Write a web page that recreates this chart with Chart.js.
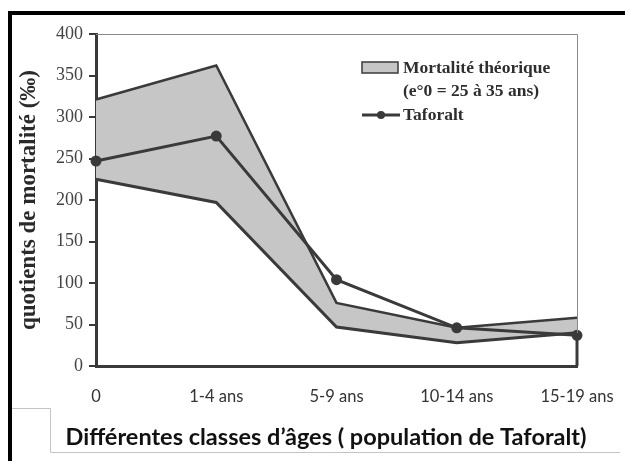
<!DOCTYPE html>
<html>
<head>
<meta charset="utf-8">
<script src="https://cdn.jsdelivr.net/npm/chart.js@4/dist/chart.umd.min.js"></script>
<style>
  html, body { margin: 0; padding: 0; background: #fff; }
  #wrap { width: 625px; height: 461px; }
</style>
</head>
<body>
<div id="wrap"><canvas id="c" width="625" height="461"></canvas></div>
<script>
// ---- data ----
const categories = ['0', '1-4 ans', '5-9 ans', '10-14 ans', '15-19 ans'];
const theoLow  = [225, 197, 47, 28, 40];
const theoHigh = [321, 362, 76, 46, 58];
const taforalt = [247, 277, 104, 46, 37];
const yTicks = [0, 50, 100, 150, 200, 250, 300, 350, 400];
const legendTheo = ['Mortalité théorique', '(e°0 = 25 à 35 ans)'];
const legendTaf = 'Taforalt';
const xTitle = 'Différentes classes d\u2019âges ( population de Taforalt)';
const yTitle = 'quotients de mortalité (‰)';

const DARK = '#3a3a3a';
const FILL = '#c6c6c6';
const SERIF = '"Liberation Serif", "DejaVu Serif", serif';
const SANS = 'Lato, "Open Sans", sans-serif';

const decor = {
  id: 'decor',
  beforeDraw(chart) {
    const ctx = chart.ctx;
    ctx.save();
    ctx.fillStyle = '#fff';
    ctx.fillRect(0, 0, chart.width, chart.height);
    // black frame
    ctx.fillStyle = '#000';
    ctx.fillRect(8, 11, 4, chart.height - 11);
    ctx.fillRect(8, 11, chart.width - 8, 4);
    // x-title box
    ctx.strokeStyle = '#c4c4c4';
    ctx.lineWidth = 1;
    ctx.beginPath();
    ctx.moveTo(12, 408.5); ctx.lineTo(50.5, 408.5);
    ctx.lineTo(50.5, 452.5); ctx.lineTo(620, 452.5);
    ctx.stroke();
    // x-axis title (wider than the plot, so drawn here)
    ctx.fillStyle = '#111';
    ctx.font = 'bold 23.5px ' + SANS;
    ctx.textAlign = 'center';
    ctx.textBaseline = 'middle';
    ctx.fillText(xTitle, 326, 437);
    ctx.restore();
  },
  afterDatasetsDraw(chart) {
    const ctx = chart.ctx;
    const a = chart.chartArea;
    const xs = chart.scales.x, ys = chart.scales.y;
    ctx.save();
    // plot border top / right
    ctx.strokeStyle = '#8a8a8a';
    ctx.lineWidth = 1;
    ctx.beginPath();
    ctx.moveTo(a.left, a.top + 0.5); ctx.lineTo(a.right + 0.5, a.top + 0.5);
    ctx.lineTo(a.right + 0.5, a.bottom);
    ctx.stroke();
    // dark right edge of the lower area
    const last = categories.length - 1;
    const xl = xs.getPixelForValue(last);
    ctx.strokeStyle = DARK;
    ctx.lineWidth = 3;
    ctx.beginPath();
    ctx.moveTo(xl, ys.getPixelForValue(0));
    ctx.lineTo(xl, ys.getPixelForValue(theoLow[last]));
    ctx.stroke();

    // legend
    ctx.fillStyle = FILL;
    ctx.fillRect(362, 62, 36, 11);
    ctx.strokeStyle = DARK;
    ctx.lineWidth = 1.5;
    ctx.strokeRect(362, 62, 36, 11);
    ctx.fillStyle = '#2e2e2e';
    ctx.font = 'bold 17.5px ' + SERIF;
    ctx.textAlign = 'left';
    ctx.textBaseline = 'middle';
    ctx.fillText(legendTheo[0], 403, 68);
    ctx.fillText(legendTheo[1], 403, 91);
    ctx.fillText(legendTaf, 403, 115);
    ctx.strokeStyle = DARK;
    ctx.lineWidth = 3;
    ctx.beginPath();
    ctx.moveTo(362, 115); ctx.lineTo(400, 115);
    ctx.stroke();
    ctx.fillStyle = DARK;
    ctx.beginPath();
    ctx.arc(381, 115, 4, 0, Math.PI * 2);
    ctx.fill();
    ctx.restore();
  }
};

new Chart(document.getElementById('c'), {
  type: 'line',
  data: {
    labels: categories,
    datasets: [
      {
        label: 'low',
        data: theoLow,
        order: 2,
        borderColor: DARK,
        borderWidth: 3,
        pointRadius: 0,
        fill: false,
        tension: 0,
        clip: false
      },
      {
        label: 'Mortalité théorique',
        data: theoHigh,
        order: 3,
        borderColor: DARK,
        borderWidth: 2.5,
        backgroundColor: FILL,
        pointRadius: 0,
        fill: '-1',
        tension: 0,
        clip: false
      },
      {
        label: 'Taforalt',
        data: taforalt,
        order: 0,
        borderColor: DARK,
        borderWidth: 3,
        pointRadius: 4,
        pointBackgroundColor: DARK,
        pointBorderColor: DARK,
        fill: false,
        tension: 0,
        clip: false
      }
    ]
  },
  options: {
    responsive: false,
    animation: false,
    layout: { padding: { left: 12, right: 48, top: 34, bottom: 4 } },
    plugins: {
      legend: { display: false },
      tooltip: { enabled: false }
    },
    scales: {
      x: {
        offset: false,
        grid: { display: false, drawTicks: false },
        border: { display: true, color: DARK, width: 3 },
        ticks: {
          padding: 21,
          color: '#333',
          font: { family: SANS, size: 16.5 },
          maxRotation: 0,
          autoSkip: false
        },
        afterFit(scale) {
          scale.height = 91;
          scale.paddingLeft = 0;
          scale.paddingRight = 0;
        }
      },
      y: {
        min: 0,
        max: 400,
        afterBuildTicks(scale) { scale.ticks = yTicks.map(v => ({ value: v })); },
        grid: {
          drawOnChartArea: false,
          drawTicks: true,
          tickLength: 7,
          color: DARK,
          lineWidth: 2
        },
        border: { display: true, color: DARK, width: 3 },
        ticks: {
          padding: 6,
          color: '#444',
          font: { family: SERIF, size: 18 }
        },
        title: {
          display: true,
          text: yTitle,
          color: '#2a2a2a',
          font: { family: SERIF, size: 23, weight: 'bold' },
          padding: { top: 3, bottom: 0 }
        },
        afterFit(scale) { scale.width = 84; }
      }
    }
  },
  plugins: [decor]
});
</script>
</body>
</html>
